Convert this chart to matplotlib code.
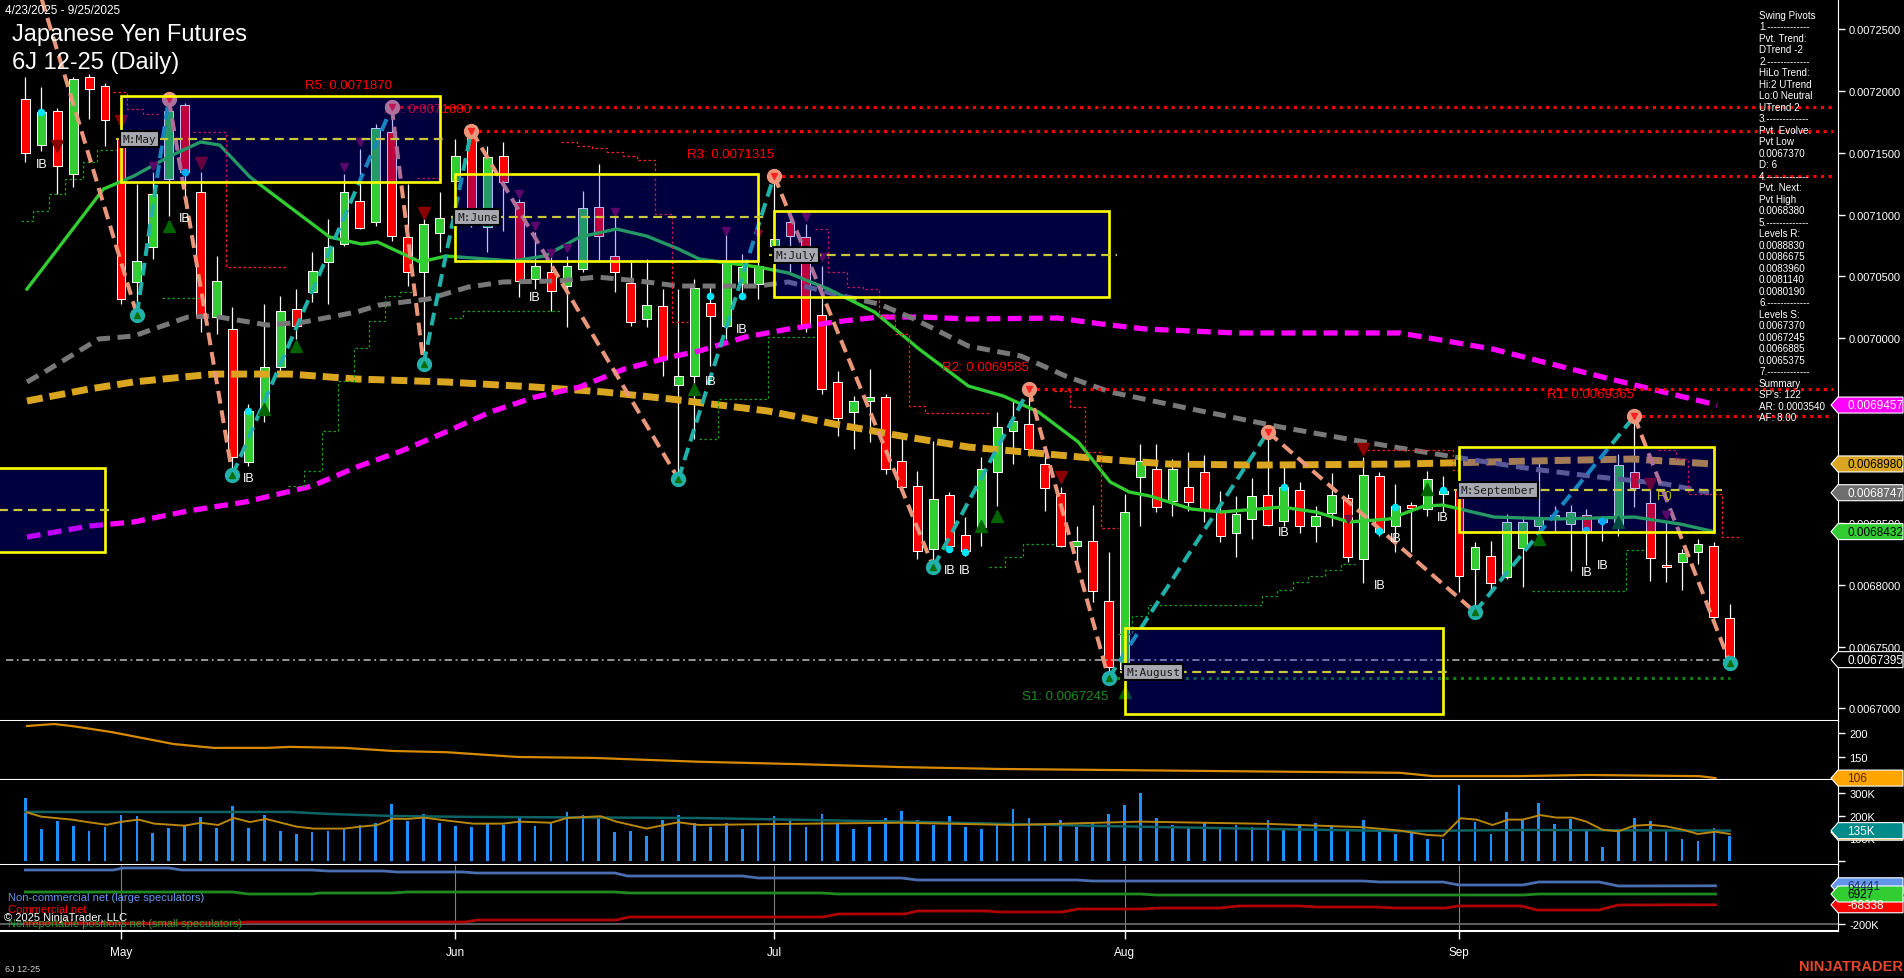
import numpy as np
import matplotlib
matplotlib.use("Agg")
import matplotlib.pyplot as plt
from matplotlib.patches import Rectangle, Polygon

plt.rcParams['font.family'] = ['Liberation Sans', 'DejaVu Sans']

UNIT = 1e-7  # prices below are kept in units of 0.0000001

# daily bars 4/23/2025 .. 9/25/2025
opens = [71936, 71563, 71839, 71328, 72114, 72041, 71612, 70454, 70737, 71288,
         71887, 71183, 70170, 70073, 68996, 69384, 69765, 70235, 70373, 70616,
         70761, 71110, 70940, 71669, 70818, 70535, 70851, 71272, 71660, 70899,
         71474, 71102, 70478, 70535, 70421, 70559, 71061, 70664, 70446, 70154,
         70259, 69619, 69692, 70284, 70097, 70437, 70437, 70745, 70940, 70818,
         70186, 69644, 69401, 69490, 69522, 69004, 68801, 68291, 68728, 68404,
         68469, 68915, 69247, 69303, 68979, 68744, 68315, 68356, 67870, 67319,
         68874, 68939, 68680, 68793, 68915, 68599, 68420, 68534, 68728, 68518,
         68769, 68477, 68582, 68704, 68210, 68882, 68477, 68647, 68615, 68736,
         68777, 68129, 68234, 68064, 68299, 68477, 68534, 68493, 68566, 68510,
         68477, 68915, 68663, 68161, 68186, 68267, 68315, 67732]
highs = [72114, 72033, 71860, 72114, 72138, 72066, 71652, 71247, 71345, 71936,
         71904, 71345, 70664, 70251, 69465, 70275, 70340, 70397, 70697, 70964,
         71328, 71531, 71733, 71870, 71247, 71045, 71183, 71612, 71680, 71555,
         71588, 71126, 70859, 70705, 70664, 71191, 71409, 70988, 70616, 70640,
         70397, 70397, 70478, 70437, 70883, 70680, 70616, 71315, 71004, 70923,
         70583, 69733, 69530, 69749, 69546, 69206, 68923, 69166, 68753, 68550,
         69036, 69401, 69490, 69585, 69117, 68793, 68477, 68647, 68267, 68736,
         69141, 69141, 69020, 69077, 69052, 68761, 68720, 68866, 69240, 68996,
         68834, 68639, 68906, 68736, 69036, 68915, 68817, 68670, 68923, 68882,
         68793, 68348, 68356, 68574, 68558, 69020, 68639, 68647, 68615, 68558,
         69060, 69365, 68777, 68510, 68291, 68372, 68348, 67845]
lows = [71426, 71515, 71166, 71223, 71774, 71555, 70275, 70190, 70640, 70988,
        71102, 70049, 70032, 68890, 68963, 69320, 69733, 69992, 70292, 70275,
        70745, 70883, 70907, 70786, 70421, 69789, 70697, 70842, 70899, 70697,
        70867, 70332, 70397, 70219, 70089, 70535, 70624, 70373, 70097, 70089,
        69692, 68858, 69182, 69773, 69992, 70316, 70316, 70664, 70535, 70049,
        69546, 69206, 69101, 69158, 68898, 68777, 68210, 68145, 68267, 68234,
        68315, 68639, 68979, 69044, 68599, 68307, 68169, 67862, 67245, 67295,
        68477, 68591, 68558, 68599, 68510, 68348, 68226, 68372, 68477, 68477,
        68420, 68348, 68477, 68186, 68015, 68396, 68267, 68267, 68558, 68591,
        67943, 67781, 67943, 68048, 67983, 68396, 68429, 68113, 68161, 68356,
        68396, 68631, 68032, 68024, 67959, 68169, 67724, 67370]
closes = [71499, 71831, 71393, 72098, 72017, 71766, 70316, 70624, 71166, 71839,
          71345, 70178, 70462, 69036, 69409, 69765, 70219, 70097, 70543, 70737,
          71183, 70891, 71701, 70826, 70535, 70923, 70972, 71474, 70940, 71466,
          71264, 70462, 70583, 70381, 70583, 71053, 70826, 70535, 70130, 70267,
          69830, 69692, 70405, 70178, 70616, 70575, 70583, 70802, 70826, 70113,
          69587, 69352, 69490, 69522, 68939, 68793, 68275, 68696, 68315, 68275,
          68939, 69279, 69328, 69101, 68785, 68315, 68356, 67951, 67335, 68591,
          69004, 68631, 68939, 68672, 68615, 68396, 68574, 68720, 68485, 68793,
          68477, 68558, 68728, 68226, 68890, 68429, 68639, 68623, 68858, 68761,
          68072, 68307, 68015, 68510, 68510, 68550, 68566, 68591, 68437, 68550,
          68971, 68785, 68218, 68145, 68258, 68331, 67740, 67395]
volume_k = [280, 142, 178, 156, 133, 151, 204, 200, 124, 147, 156, 196, 147, 244, 147,
            204, 133, 120, 129, 133, 142, 160, 169, 253, 178, 209, 169, 156, 151, 164,
            160, 200, 156, 169, 218, 204, 200, 129, 133, 111, 182, 204, 169,
            150, 170, 140, 160, 200, 180, 150, 210, 170, 140, 150, 190, 220, 180, 160,
            200, 150, 140, 170, 230, 190, 160, 180, 150, 170, 210, 250, 300, 190, 160,
            150, 170, 140, 160, 150, 180, 140, 160, 170, 150, 140, 180, 130, 120,
            129, 98, 98, 338, 173, 120, 218, 182, 258, 164, 187, 133, 62, 129, 191,
            178, 133, 98, 89, 147, 111]

month_names = ['May', 'Jun', 'Jul', 'Aug', 'Sep']
month_bars = [6, 27, 47, 69, 90]

# moving averages (bar position, price)
ma_green_x = [0.1, 4.9, 6.8, 9.1, 11.0, 12.2, 14.1, 16.6, 19.1, 21.1, 22.1, 24.8, 26.4, 30.6, 32.6,
              34.8, 37.1, 39.0, 41.0, 42.3, 46.0, 47.9, 50.4, 53.3, 54.6, 56.1, 59.2, 61.4, 63.6, 66.1,
              68.1, 69.3, 70.6, 73.2, 75.1, 78.9, 81.0, 83.1, 85.6, 87.8, 89.0, 92.2, 96.1, 101.0, 103.9, 106.0]
ma_green_y = [70397, 71207, 71312, 71474, 71588, 71563, 71304, 71061, 70818, 70761, 70778, 70616, 70664, 70624, 70664,
              70818, 70883, 70826, 70721, 70640, 70575, 70527, 70397, 70211, 70073, 69911, 69611, 69530, 69401, 69158,
              68834, 68753, 68720, 68615, 68591, 68631, 68591, 68510, 68534, 68639, 68647, 68550, 68534, 68550, 68493, 68432]
ma_gray_x = [0.1, 1.2, 4.6, 6.8, 10.2, 11.8, 15.2, 17.5, 20.8, 22.2, 25.3, 27.8, 30.0, 33.4, 35.9, 38.5, 41.0,
             46.0, 47.9, 50.8, 53.6, 55.8, 59.2, 62.5, 65.3, 68.1, 73.2, 78.8, 83.0, 87.4, 90.5, 94.6, 98.8, 103.0, 105.7]
ma_gray_y = [69644, 69725, 69992, 70016, 70170, 70178, 70105, 70130, 70211, 70267, 70316, 70413, 70454, 70462, 70494,
             70462, 70421, 70421, 70454, 70356, 70275, 70154, 69935, 69854, 69692, 69563, 69425, 69279, 69182, 69085,
             69020, 68939, 68874, 68817, 68747]
ma_gold_x = [0.1, 4.0, 6.8, 11.8, 16.6, 20.8, 26.4, 32.0, 36.3, 40.5, 46.6, 50.8, 55.0, 59.2, 63.4, 67.6,
             71.8, 77.4, 86.3, 94.6, 100.9, 105.9]
ma_gold_y = [69490, 69587, 69644, 69708, 69708, 69668, 69644, 69603, 69563, 69506, 69409, 69303, 69206, 69117,
             69069, 69020, 68979, 68971, 68979, 69004, 69020, 68980]
ma_mag_x = [0.1, 4.0, 6.8, 10.2, 13.8, 18.0, 20.8, 23.6, 26.4, 29.2, 32.0, 34.8, 37.6, 40.5, 42.3, 45.2, 47.9,
            50.8, 53.6, 56.3, 59.2, 64.8, 67.6, 70.3, 76.0, 86.3, 92.1, 99.5, 106.2]
ma_mag_y = [68388, 68477, 68510, 68599, 68672, 68801, 68955, 69085, 69239, 69401, 69522, 69603, 69749, 69846,
            69895, 70008, 70073, 70130, 70170, 70170, 70154, 70162, 70113, 70073, 70041, 70041, 69911, 69668, 69457]

# swing pivots (zigzag)
zz_bar = [0, 7, 9, 13, 23, 25, 28, 41, 47, 57, 63, 68, 78, 91, 101, 107]
zz_price = [73183, 70190, 71936, 68890, 71870, 69789, 71680, 68858, 71315, 68145, 69585, 67245,
            69240, 67781, 69365, 67370]

res_names = ['R5', 'R4', 'R3', 'R2', 'R1']
res_price = [71870, 71680, 71315, 69585, 69365]
res_bar = [23, 28, 47, 63, 101]
sup_name, sup_price, sup_bar = 'S1', 67245, 68

# monthly range boxes
box_first = [-16, 6, 27, 47, 69, 90]
box_last = [5, 26, 46, 68, 89, 106]
box_hi = [68947, 71960, 71328, 71029, 67651, 69117]
box_lo = [68267, 71264, 70624, 70332, 66954, 68429]
box_mid = [68607, 71612, 70980, 70672, 67295, 68769]
box_tag = ['', 'M:May', 'M:June', 'M:July', 'M:August', 'M:September']

# trailing step lines
red_steps = [
    [(5.5, 71993), (6.4, 71993), (6.4, 71855), (7.4, 71855), (7.4, 71814), (8.4, 71814)],
    [(10.5, 71669), (12.6, 71669), (12.6, 70575), (16.5, 70575)],
    [(24.6, 71296), (26.0, 71296)],
    [(33.6, 71588), (34.6, 71588), (34.6, 71555), (35.6, 71555), (35.6, 71539), (36.5, 71539),
     (36.5, 71507), (37.5, 71507), (37.5, 71474), (38.4, 71474), (38.4, 71442), (39.5, 71442),
     (39.5, 71004), (40.6, 71004), (40.6, 70130), (41.6, 70130)],
    [(49.6, 70883), (50.4, 70883), (50.4, 70535), (51.6, 70535), (51.6, 70413), (52.6, 70413),
     (52.6, 70397), (53.6, 70397), (53.6, 70178), (54.6, 70178), (54.6, 70032), (55.5, 70032),
     (55.5, 69449), (56.5, 69449), (56.5, 69392), (60.5, 69392)],
    [(64.6, 69571), (65.6, 69571), (65.6, 69441), (66.5, 69441), (66.5, 69077), (67.5, 69077),
     (67.5, 68461), (68.6, 68461)],
    [(84.2, 69093), (89.6, 69093), (89.6, 68931), (90.1, 68931)],
    [(102.5, 69093), (103.6, 69093), (103.6, 69020), (104.4, 69020), (104.4, 68736), (106.5, 68736),
     (106.5, 68388), (107.6, 68388)],
]
green_steps = [
    [(-0.3, 70948), (0.5, 70948), (0.5, 71029), (1.5, 71029), (1.5, 71166), (2.5, 71166), (2.5, 71288),
     (3.6, 71288), (3.6, 71426), (4.5, 71426), (4.5, 71523), (5.7, 71523)],
    [(8.6, 70324), (11.0, 70324)],
    [(16.5, 68801), (17.5, 68801), (17.5, 68923), (18.6, 68923), (18.6, 69247), (19.6, 69247),
     (19.6, 69652), (20.6, 69652), (20.6, 69919), (21.6, 69919), (21.6, 70138), (22.6, 70138),
     (22.6, 70340), (23.5, 70340), (23.5, 70373), (24.6, 70373)],
    [(26.6, 70162), (27.5, 70162), (27.5, 70219), (33.6, 70219)],
    [(42.3, 69182), (43.5, 69182), (43.5, 69506), (46.6, 69506), (46.6, 70008), (49.6, 70008)],
    [(60.5, 68145), (61.5, 68145), (61.5, 68226), (62.6, 68226), (62.6, 68331), (64.6, 68331)],
    [(68.6, 67602), (69.5, 67602), (69.5, 67748), (70.5, 67748), (70.5, 67837), (77.6, 67837),
     (77.6, 67910), (78.6, 67910), (78.6, 67959), (79.6, 67959), (79.6, 68024), (80.5, 68024),
     (80.5, 68072), (81.6, 68072), (81.6, 68121), (82.6, 68121), (82.6, 68169), (83.5, 68169)],
    [(94.6, 67951), (100.5, 67951), (100.5, 68283), (101.6, 68283)],
]

# signal markers
tri_dn_bar = [2, 6, 11, 25, 65, 84, 102]
tri_dn_price = [71555, 71758, 71418, 71013, 68874, 69101, 68817]
tri_pu_bar = [8, 20, 21, 31, 32, 33, 34, 37, 44, 46, 49, 50, 83, 103]
tri_pu_price = [71393, 71385, 71588, 71166, 70907, 70689, 70729, 71021, 70867, 70842, 70980, 70656, 68534, 68566]
tri_up_bar = [9, 15, 17, 42, 60, 61, 69, 88, 95, 100]
tri_up_price = [70907, 69425, 69935, 69587, 68477, 68558, 67133, 68777, 68372, 68510]
ib_bar = [1, 10, 14, 32, 43, 45, 58, 59, 79, 85, 86, 89, 98, 99]
ib_price = [71409, 70972, 68866, 70332, 69652, 70073, 68121, 68121, 68429, 68000, 68380, 68550, 68105, 68161]
dot_bar = [1, 10, 14, 43, 45, 58, 59, 79, 85, 86, 89, 98, 99]
dot_price = [71831, 71345, 69409, 70340, 70340, 68291, 68267, 68793, 68437, 68631, 68769, 68445, 68518]

# indicator panel
ind_x = [0.1, 1.8, 2.9, 5.4, 9.3, 11.8, 15.2, 16.6, 20.0, 23.1, 26.4, 30.9, 35.7, 42.3, 48.6, 54.9,
         61.2, 67.5, 73.7, 80.0, 86.3, 88.4, 93.6, 98.0, 105.1, 106.1]
ind_y = [214.6, 218.7, 214.6, 202, 177, 169, 169, 171, 169, 162.5, 160, 150, 148, 140, 135, 129,
         125, 123, 121, 119, 117, 110, 110, 112.5, 110, 106]

# volume averages (K)
vavg_x = [0, 16.6, 19.1, 23.1, 27.9, 42.3, 55, 68, 80, 86.3, 94, 107]
vavg_y = [218, 218, 209, 200, 196, 191, 175, 155, 140, 133, 138, 135]
vfast_x = [0.1, 1.0, 2.9, 4.0, 5.1, 6.1, 7.1, 8.1, 10.0, 11.0, 12.1, 13.1, 14.1, 15.1, 17.0, 18.1, 20.0,
           21.1, 22.1, 23.1, 24.0, 25.0, 26.2, 28.1, 30.0, 31.0, 33.0, 34.0, 36.1, 37.1, 39.0, 40.1, 41.0,
           42.3, 48, 55, 62, 70, 78, 84, 86.3, 88.0, 89.0, 90.1, 91.1, 92.1, 93.1, 94.0, 95.1, 96.1, 97.1,
           98.0, 99.0, 100.0, 101.0, 102.0, 103.0, 104.1, 105.0, 106.1, 107.0]
vfast_y = [216, 197, 184, 172, 161, 175, 184, 166, 157, 170, 160, 191, 173, 187, 153, 144, 144, 153, 160,
           188, 187, 193, 182, 166, 166, 175, 170, 191, 199, 175, 144, 160, 172, 160, 165, 170, 160, 175,
           165, 150, 135, 116, 112, 190, 184, 160, 184, 184, 204, 193, 193, 175, 139, 132, 157, 161, 154,
           138, 120, 130, 120]

# COT positions (K)
cot_nc_x = [0, 5.5, 6.2, 9, 9.8, 18, 19, 22.5, 23.3, 27.5, 28.3, 37, 37.8, 45, 46, 55, 56, 66, 67, 84,
            85, 89, 90, 94, 95, 98.8, 100, 106.1]
cot_nc_y = [175, 175, 189, 189, 175, 175, 168, 168, 161, 161, 154, 154, 133, 133, 119, 119, 105, 105,
            98, 98, 91, 91, 70, 70, 91, 91, 63, 64.4]
cot_nr_x = [0, 13, 14, 18, 18.5, 23, 24, 37, 38, 50, 51, 70, 71, 94, 95, 106.1]
cot_nr_y = [21, 21, 7, 7, 14, 14, 21, 21, 14, 14, 7, 7, 0, 0, 6.9, 6.9]
cot_cm_x = [0, 13, 14, 27.6, 28.4, 37.1, 37.9, 50.1, 51, 55.2, 56, 60.4, 61.1, 65.1, 66.1, 70.1, 71.2,
            75, 76.1, 80, 81.1, 84.8, 86, 89.2, 89.9, 93.9, 94.9, 98.8, 100, 106.1]
cot_cm_y = [-196, -196, -189, -189, -175, -175, -154, -154, -133, -133, -112, -112, -119, -119, -98,
            -98, -91, -91, -77, -77, -84, -84, -91, -91, -77, -77, -105, -105, -70, -68.3]

info_lines = ['Swing Pivots', '1.-------------', 'Pvt. Trend:', 'DTrend -2', '2.-------------',
              'HiLo Trend:', 'Hi:2 UTrend', 'Lo:0 Neutral', 'UTrend 2', '3.-------------',
              'Pvt. Evolve:', 'Pvt Low', '0.0067370', 'D: 6', '4.-------------', 'Pvt. Next:',
              'Pvt High', '0.0068380', '5.-------------', 'Levels R:', '0.0088830', '0.0086675',
              '0.0083960', '0.0081140', '0.0080190', '6.-------------', 'Levels S:', '0.0067370',
              '0.0067245', '0.0066885', '0.0065375', '7.-------------', 'Summary', "SP's: 122",
              'AR: 0.0003540', 'AF: 8.00']

W, H = 1904, 979
fig = plt.figure(figsize=(W / 100, H / 100), dpi=100, facecolor='black')


def panel(top, bottom):
    return fig.add_axes([0, 1 - bottom / H, 1838 / W, (bottom - top) / H])


ax = panel(0, 722)
ax_i = panel(722, 781)
ax_v = panel(781, 866)
ax_c = panel(866, 932)

XMIN, XMAX = -1.594, 113.79
for a in (ax, ax_i, ax_v, ax_c):
    a.set_facecolor('black')
    a.set_xlim(XMIN, XMAX)
    a.spines['top'].set_visible(False)
    a.spines['left'].set_visible(False)
    a.spines['right'].set_color('white')
    a.spines['bottom'].set_color('white')
    a.spines['bottom'].set_linewidth(1.5)
    a.yaxis.tick_right()
    a.tick_params(axis='y', colors='white', labelsize=8, length=5, width=1, pad=3)
    a.tick_params(axis='x', bottom=False, labelbottom=False)

u = lambda v: np.array(v, dtype=float) * UNIT

# ---- price panel ----
ax.set_ylim(66898 * UNIT, 72746 * UNIT)
yt = np.arange(67000, 72501, 500)
ax.set_yticks(yt * UNIT)
ax.set_yticklabels(['%.7f' % (v * UNIT) for v in yt])

bars = np.arange(len(opens))
o, h, l, c = u(opens), u(highs), u(lows), u(closes)
ax.vlines(bars, l, h, color='white', lw=0.9, zorder=3)
for i in bars:
    col = '#32cd32' if c[i] >= o[i] else '#ff0000'
    ax.add_patch(Rectangle((i - 0.28, min(o[i], c[i])), 0.56, max(abs(c[i] - o[i]), 1.5 * UNIT),
                           facecolor=col, edgecolor='white', lw=0.7, zorder=4))

ax.plot(ma_gold_x, u(ma_gold_y), color='#daa520', lw=5, dashes=(2.3, 1.0), zorder=5)
ax.plot(ma_mag_x, u(ma_mag_y), color='#ff00ff', lw=3.8, dashes=(2.6, 1.4), zorder=5)
ax.plot(ma_gray_x, u(ma_gray_y), color='#787878', lw=3.6, dashes=(2.6, 1.5), zorder=5)
ax.plot(ma_green_x, u(ma_green_y), color='#32cd32', lw=2.4, zorder=5)

for seg in red_steps:
    sx, sy = zip(*seg)
    ax.plot(sx, u(sy), color='#ff2020', lw=0.9, dashes=(2, 2), zorder=5)
for seg in green_steps:
    sx, sy = zip(*seg)
    ax.plot(sx, u(sy), color='#1a9a1a', lw=0.9, dashes=(2, 2), zorder=5)

# resistance / support levels
for name, val, b in zip(res_names, res_price, res_bar):
    ax.plot([b, XMAX - 0.3], [val * UNIT] * 2, color='#ff0000', lw=2.2, dashes=(1, 1.5), zorder=5)
    ax.annotate('%s: %.7f' % (name, val * UNIT), (b, val * UNIT), xytext=(0, 22),
                textcoords='offset pixels', ha='right', va='center', color='#ff0000',
                fontsize=9.5, zorder=5)
ax.plot([sup_bar, len(opens) - 1], [sup_price * UNIT] * 2, color='#108010', lw=2.2,
        dashes=(1, 1.5), zorder=5)
ax.annotate('%s: %.7f' % (sup_name, sup_price * UNIT), (sup_bar, sup_price * UNIT), xytext=(0, -18),
            textcoords='offset pixels', ha='right', va='center', color='#1f8a1f', fontsize=9.5, zorder=5)

# last price line
ax.plot([-1.2, len(opens) - 1], [c[-1]] * 2, color='#a0a0a0', lw=1.3, dashes=(4, 2, 1, 2), zorder=5)

# zigzag
for k in range(len(zz_bar) - 1):
    col = '#e9967a' if zz_price[k + 1] < zz_price[k] else '#20b2aa'
    ax.plot(zz_bar[k:k + 2], u(zz_price[k:k + 2]), color=col, lw=2.9, dashes=(3.2, 1.7), zorder=6)
for b, p, k in zip(zz_bar[1:], zz_price[1:], range(1, len(zz_bar))):
    hi = zz_price[k] > zz_price[k - 1]
    ax.plot(b, p * UNIT, 'o', ms=10, color='#e9967a' if hi else '#20b2aa', zorder=7)
    if hi:
        ax.plot(b, p * UNIT, 'v', ms=5, color='#ff2020', zorder=7)
    else:
        ax.plot(b, p * UNIT, '^', ms=5, color='#0a6e0a', zorder=7)

ax.plot(tri_dn_bar, u(tri_dn_price), 'v', ms=9, color='#8b0000', zorder=6)
ax.plot(tri_pu_bar, u(tri_pu_price), 'v', ms=6, color='#7a0a3a', zorder=6)
ax.plot(tri_up_bar, u(tri_up_price), '^', ms=9, color='#006400', zorder=6)
ax.plot(dot_bar, u(dot_price), 'o', ms=4.5, color='#00e5ff', zorder=6)
for b, p in zip(ib_bar, ib_price):
    ax.text(b, p * UNIT, 'IB', color='white', fontsize=9, ha='center', va='center', zorder=7)
ax.text(102.4, 68720 * UNIT, 'F0', color='#c8b400', fontsize=9, va='center', zorder=10)

# monthly boxes
for f, la, hi, lo, mid, tag in zip(box_first, box_last, box_hi, box_lo, box_mid, box_tag):
    ax.add_patch(Rectangle((f, lo * UNIT), la - f, (hi - lo) * UNIT, facecolor=(0, 0, 1, 0.25),
                           edgecolor='none', zorder=8))
    ax.add_patch(Rectangle((f, lo * UNIT), la - f, (hi - lo) * UNIT, fill=False,
                           edgecolor='#ffff00', lw=1.9, zorder=9))
    ax.plot([f - 0.3, la + 0.5], [mid * UNIT] * 2, color='#c8c83a', lw=1.6, dashes=(4, 2.5), zorder=9)
    if tag:
        ax.text(f + 0.1, mid * UNIT, tag, family='DejaVu Sans Mono', fontsize=8, color='#1a1a1a',
                va='center', ha='left', zorder=10,
                bbox=dict(boxstyle='square,pad=0.25', fc='#a8a8b0', ec='black', lw=1.5))

# ---- indicator panel ----
ax_i.set_ylim(102, 225)
ax_i.set_yticks([150, 200])
ax_i.plot(ind_x, ind_y, color='#d88a00', lw=1.6)

# ---- volume panel ----
ax_v.set_ylim(-17800, 360000)
ax_v.set_yticks([0, 100000, 200000, 300000])
ax_v.set_yticklabels(['', '100K', '200K', '300K'])
ax_v.bar(bars, np.array(volume_k) * 1000, width=0.17, color='#1e90ff')
ax_v.plot(vavg_x, np.array(vavg_y) * 1000, color='#0e6464', lw=1.8)
ax_v.plot(vfast_x, np.array(vfast_y) * 1000, color='#b8860b', lw=1.4)

# ---- COT panel ----
ax_c.set_ylim(-252000, 210000)
ax_c.set_yticks([-200000])
ax_c.set_yticklabels(['-200K'])
ax_c.vlines(month_bars, -252000, 210000, color='#808080', lw=0.8, zorder=1)
ax_c.axhline(-200000, color='#707070', lw=1.2, zorder=1)
ax_c.plot(cot_nc_x, np.array(cot_nc_y) * 1000, color='#4a6eb0', lw=2)
ax_c.plot(cot_nr_x, np.array(cot_nr_y) * 1000, color='#1f8a1f', lw=2)
ax_c.plot(cot_cm_x, np.array(cot_cm_y) * 1000, color='#b00000', lw=2)
ax_c.set_xticks(month_bars)
ax_c.set_xticklabels(month_names)
ax_c.tick_params(axis='x', bottom=True, labelbottom=True, colors='white', length=6, width=1,
                 pad=5, labelsize=8.5)


# ---- right axis value tags ----
def axis_tag(a, val, text, fc, tc):
    yf = a.transData.transform((0, val))[1] / H
    dy = 8 / H
    verts = [(1831 / W, yf), (1838 / W, yf + dy), (1903 / W, yf + dy), (1903 / W, yf - dy), (1838 / W, yf - dy)]
    fig.add_artist(Polygon(verts, closed=True, transform=fig.transFigure, facecolor=fc,
                           edgecolor='white', lw=0.8))
    fig.text(1847 / W, yf, text, color=tc, fontsize=8.5, va='center', ha='left')


axis_tag(ax, ma_mag_y[-1] * UNIT, '%.7f' % (ma_mag_y[-1] * UNIT), '#ff00ff', 'white')
axis_tag(ax, ma_gold_y[-1] * UNIT, '%.7f' % (ma_gold_y[-1] * UNIT), '#daa520', 'black')
axis_tag(ax, ma_gray_y[-1] * UNIT, '%.7f' % (ma_gray_y[-1] * UNIT), '#6e6e6e', 'white')
axis_tag(ax, ma_green_y[-1] * UNIT, '%.7f' % (ma_green_y[-1] * UNIT), '#32cd32', 'black')
axis_tag(ax, c[-1], '%.7f' % c[-1], 'black', 'white')
axis_tag(ax_i, ind_y[-1], '%d' % ind_y[-1], '#ffa500', '#5a2000')
axis_tag(ax_v, vfast_y[-1] * 1000 + 8000, '', '#daa520', 'black')
axis_tag(ax_v, vavg_y[-1] * 1000, '%dK' % vavg_y[-1], '#008b8b', 'white')
axis_tag(ax_c, 64441, '64441', '#6495ed', '#203060')
axis_tag(ax_c, -68338, '-68338', '#ff0000', 'white')
axis_tag(ax_c, 6927, '6927', '#32cd32', 'black')

# ---- texts ----
fig.text(5 / W, 1 - 11 / H, '4/23/2025 - 9/25/2025', color='white', fontsize=8.5, va='center')
fig.text(12 / W, 1 - 35 / H, 'Japanese Yen Futures', color='white', fontsize=17, va='center')
fig.text(12 / W, 1 - 63 / H, '6J 12-25 (Daily)', color='white', fontsize=17, va='center')
for k, line in enumerate(info_lines):
    fig.text(1759 / W, 1 - (15.7 + 11.5 * k) / H, line, color='white', fontsize=7.1, va='center')

fig.text(8 / W, 1 - 898 / H, 'Non-commercial net (large speculators)', color='#6495ed', fontsize=8, va='center')
fig.text(8 / W, 1 - 910 / H, 'Commercial net', color='#ff0000', fontsize=8, va='center')
fig.text(8 / W, 1 - 924 / H, 'Nonreportable positions net (small speculators)', color='#2e9e2e',
         fontsize=8, va='center')
fig.text(4 / W, 1 - 918 / H, '\u00a9 2025 NinjaTrader, LLC', color='white', fontsize=8, va='center')
fig.text(5 / W, 1 - 970 / H, '6J 12-25', color='#d0d0d0', fontsize=6.5, va='center')
fig.text(1903 / W, 1 - 967 / H, 'NINJATRADER', color='#e8472a', fontsize=10.5, fontweight='bold',
         ha='right', va='center')

fig.savefig('out.png', dpi=100, facecolor='black')
